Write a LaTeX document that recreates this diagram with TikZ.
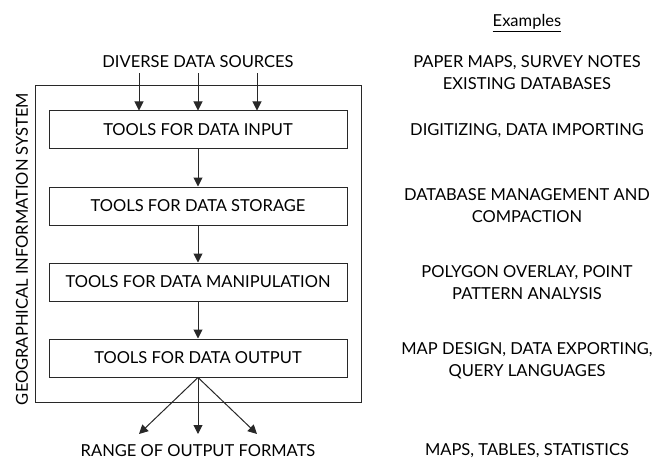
\documentclass[tikz,border=0pt]{standalone}
\usepackage{fontspec}
\setmainfont{Lato}
\usetikzlibrary{positioning,arrows.meta}
\definecolor{LineGray}{RGB}{40,40,40}

\begin{document}
\begin{tikzpicture}[
x=1pt,y=-1pt,
node distance=37pt,
tool/.style={rectangle,draw=LineGray,line width=1pt,minimum width=298pt,minimum height=38pt,font=\fontsize{16.5}{20}\selectfont,inner sep=0pt},
lbl/.style={font=\fontsize{16.5}{20}\selectfont,align=center,inner sep=0pt},
arrow/.style={-{Triangle[length=9pt,width=9pt]},line width=1pt,draw=LineGray}
]
\useasboundingbox (0,0) rectangle (657,460);
% system frame
\node[draw=LineGray,line width=1pt,minimum width=326pt,minimum height=316pt,inner sep=0pt] (gis) at (198,244) {};
\node[lbl,rotate=90] (gisl) at (22,249) {GEOGRAPHICAL INFORMATION SYSTEM};
% tool boxes
\node[tool] (inp) at (198,130) {TOOLS FOR DATA INPUT};
\node[tool,below=of inp] (sto) {TOOLS FOR DATA STORAGE};
\node[tool,below=of sto] (man) {TOOLS FOR DATA MANIPULATION};
\node[tool,below=of man] (outp) {TOOLS FOR DATA OUTPUT};
\node[lbl] (src) at (198,62) {DIVERSE DATA SOURCES};
\node[lbl] (rng) at (198,451) {RANGE OF OUTPUT FORMATS};
\coordinate (o1) at (139,434);
\coordinate (o2) at (198,434);
\coordinate (o3) at (257,434);
% arrows
\foreach \dx in {-59,0,59}
  \draw[arrow] ([xshift=\dx pt,yshift=-5pt]src.south) -- ([xshift=\dx pt]inp.north);
\draw[arrow] (inp) -- (sto);
\draw[arrow] (sto) -- (man);
\draw[arrow] (man) -- (outp);
\draw[arrow] (outp.south) -- (o1);
\draw[arrow] (outp.south) -- (o2);
\draw[arrow] (outp.south) -- (o3);
% examples column
\node[lbl] (ex) at (527,23) {\underline{Examples}};
\node[lbl] (ex1) at (527,73) {PAPER MAPS, SURVEY NOTES\\[2pt]EXISTING DATABASES};
\node[lbl] (ex2) at (527,131) {DIGITIZING, DATA IMPORTING};
\node[lbl] (ex3) at (527,206) {DATABASE MANAGEMENT AND\\[2pt]COMPACTION};
\node[lbl] (ex4) at (527,283) {POLYGON OVERLAY, POINT\\[2pt]PATTERN ANALYSIS};
\node[lbl] (ex5) at (527,361) {MAP DESIGN, DATA EXPORTING,\\[2pt]QUERY LANGUAGES};
\node[lbl] (ex6) at (527,451) {MAPS, TABLES, STATISTICS};
\end{tikzpicture}
\end{document}
